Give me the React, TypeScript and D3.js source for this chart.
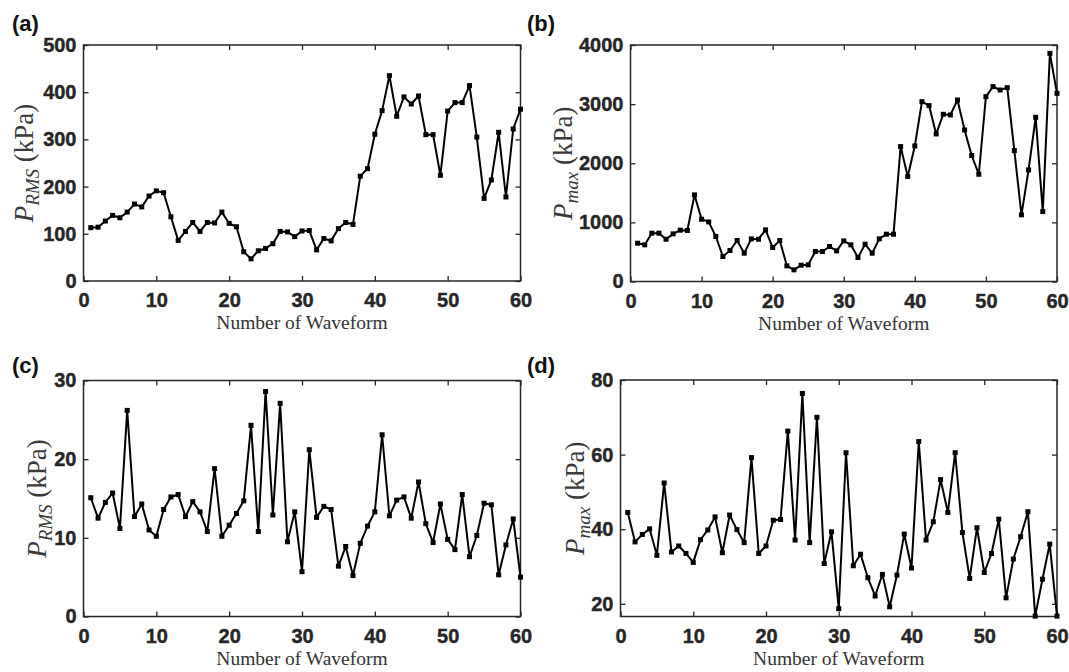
import React, { useEffect, useRef } from "react";
import * as d3 from "d3";

// waveform index 1..60
const waveIdx = d3.range(1, 61);
const xTicks = [0, 10, 20, 30, 40, 50, 60];

const prmsA = [113, 114, 127, 139, 134, 146, 163, 157, 180, 191, 187, 136, 86, 105, 124, 105, 124, 123, 146, 122,
  115, 62, 47, 64, 69, 79, 105, 104, 94, 106, 107, 66, 90, 85, 111, 124, 120, 222, 238, 311,
  361, 435, 349, 390, 375, 392, 310, 310, 224, 360, 378, 378, 414, 305, 175, 214, 315, 178, 322, 364];
const pmaxB = [648, 620, 817, 817, 715, 806, 868, 862, 1465, 1053, 1008, 761, 423, 524, 693, 479, 721, 715, 873, 575,
  693, 265, 197, 276, 282, 507, 507, 592, 518, 687, 620, 406, 631, 479, 721, 800, 800, 2282, 1775, 2293,
  3042, 2975, 2496, 2828, 2817, 3070, 2563, 2130, 1814, 3127, 3296, 3239, 3279, 2214, 1127, 1887, 2777, 1183, 3859, 3183];
const prmsC = [15.1, 12.5, 14.5, 15.7, 11.2, 26.2, 12.7, 14.3, 11.0, 10.2, 13.6, 15.2, 15.5, 12.7, 14.6, 13.3, 10.8, 18.8, 10.2, 11.6,
  13.1, 14.7, 24.3, 10.8, 28.6, 12.9, 27.1, 9.5, 13.3, 5.7, 21.2, 12.6, 14.0, 13.6, 6.4, 8.9, 5.2, 9.3, 11.5, 13.3,
  23.1, 12.8, 14.8, 15.2, 12.5, 17.1, 11.8, 9.4, 14.3, 9.8, 8.5, 15.5, 7.6, 10.3, 14.4, 14.2, 5.3, 9.1, 12.4, 5.0];
const pmaxD = [44.5, 36.6, 38.6, 40.1, 33.0, 52.4, 33.9, 35.5, 33.5, 31.1, 37.2, 39.8, 43.3, 33.7, 43.8, 39.9, 36.4, 59.2, 33.5, 35.5,
  42.4, 42.6, 66.3, 37.1, 76.4, 36.4, 70.0, 30.8, 39.3, 18.7, 60.5, 30.2, 33.3, 27.0, 22.1, 27.9, 19.2, 27.7, 38.7, 29.6,
  63.5, 37.1, 42.0, 53.3, 44.5, 60.5, 39.1, 26.8, 40.4, 28.4, 33.5, 42.7, 21.6, 32.0, 38.0, 44.7, 16.7, 26.6, 36.0, 16.7];

const yTicksA = [0, 100, 200, 300, 400, 500];
const yTicksB = [0, 1000, 2000, 3000, 4000];
const yTicksC = [0, 10, 20, 30];
const yTicksD = [20, 40, 60, 80];

const panels = [
  { tag: "(a)", vals: prmsA, yDom: [0, 500], yTicks: yTicksA, sub: "RMS", box: [83.5, 520.5, 45, 281], tagX: 12, tagY: 31, labX: 33 },
  { tag: "(b)", vals: pmaxB, yDom: [0, 4000], yTicks: yTicksB, sub: "max", box: [630.5, 1057, 45, 281.5], tagX: 527, tagY: 31, labX: 572 },
  { tag: "(c)", vals: prmsC, yDom: [0, 30], yTicks: yTicksC, sub: "RMS", box: [83.5, 520.5, 380.5, 616.5], tagX: 12, tagY: 373, labX: 46 },
  { tag: "(d)", vals: pmaxD, yDom: [16.6, 80], yTicks: yTicksD, sub: "max", box: [620.5, 1057, 380, 616.5], tagX: 527, tagY: 373, labX: 584 },
];

const INK = "#262626";
const SANS = "'Liberation Sans', Arial, sans-serif";
const SERIF = "'Liberation Serif', 'DejaVu Serif', serif";

export default function App() {
  const ref = useRef<SVGSVGElement>(null);

  useEffect(() => {
    const svg = d3.select(ref.current);
    svg.selectAll("*").remove();

    panels.forEach((p) => {
      const [l, r, t, b] = p.box;
      const x = d3.scaleLinear().domain([0, 60]).range([l, r]);
      const y = d3.scaleLinear().domain(p.yDom).range([b, t]);
      const g = svg.append("g");

      // mirrored inward ticks
      const bottom = g.append("g").attr("transform", `translate(0,${b})`)
        .call(d3.axisBottom(x).tickValues(xTicks).tickSize(-5).tickPadding(9).tickFormat(d3.format("d")));
      const top = g.append("g").attr("transform", `translate(0,${t})`)
        .call(d3.axisTop(x).tickValues(xTicks).tickSize(-5).tickFormat(() => ""));
      const left = g.append("g").attr("transform", `translate(${l},0)`)
        .call(d3.axisLeft(y).tickValues(p.yTicks).tickSize(-5).tickPadding(7).tickFormat(d3.format("d")));
      const right = g.append("g").attr("transform", `translate(${r},0)`)
        .call(d3.axisRight(y).tickValues(p.yTicks).tickSize(-5).tickFormat(() => ""));

      [bottom, top, left, right].forEach((ax) => {
        ax.select(".domain").remove();
        ax.selectAll("line").attr("stroke", INK).attr("stroke-width", 1.3);
        ax.selectAll("text").attr("fill", INK).attr("font-family", SANS)
          .attr("font-weight", "bold").attr("font-size", 20)
          .attr("stroke", INK).attr("stroke-width", 0.4);
      });
      bottom.selectAll("text").attr("dy", "0.85em");

      g.append("rect").attr("x", l).attr("y", t).attr("width", r - l).attr("height", b - t)
        .attr("fill", "none").attr("stroke", INK).attr("stroke-width", 1.5);

      const line = d3.line<number>().x((_, i) => x(waveIdx[i])).y((d) => y(d));
      g.append("path").datum(p.vals).attr("d", line).attr("fill", "none")
        .attr("stroke", "#000").attr("stroke-width", 2).attr("stroke-linejoin", "round");

      g.selectAll(".mk").data(p.vals).enter().append("rect")
        .attr("x", (_, i) => x(waveIdx[i]) - 2.5).attr("y", (d) => y(d) - 2.5)
        .attr("width", 5).attr("height", 5).attr("fill", "#000");

      // labels
      g.append("text").attr("x", p.tagX).attr("y", p.tagY).attr("font-family", SANS)
        .attr("font-weight", "bold").attr("font-size", 22).attr("fill", "#111").text(p.tag);

      g.append("text").attr("x", (l + r) / 2).attr("y", b + 48).attr("text-anchor", "middle")
        .attr("font-family", SERIF).attr("font-size", 19.5).attr("fill", "#333").text("Number of Waveform");

      const cy = (t + b) / 2;
      const yl = g.append("text").attr("transform", `translate(${p.labX},${cy}) rotate(-90)`)
        .attr("text-anchor", "middle")
        .attr("font-family", SERIF).attr("font-size", 27).attr("fill", "#3a3a3a");
      yl.append("tspan").attr("font-style", "italic").text("P");
      yl.append("tspan").attr("font-style", "italic").attr("font-size", 19).attr("dy", 6).text(p.sub);
      yl.append("tspan").attr("dy", -6).text(" (kPa)");
    });
  }, []);

  return (
    <svg ref={ref} width={1069} height={672}
      style={{ position: "absolute", left: 0, top: 0, background: "#fff" }} />
  );
}
